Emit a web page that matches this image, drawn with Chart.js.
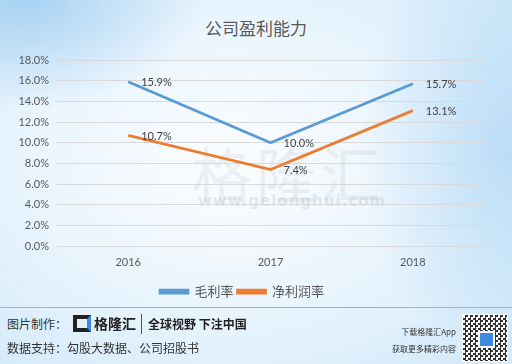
<!DOCTYPE html>
<html><head><meta charset="utf-8">
<script src="https://cdn.jsdelivr.net/npm/chart.js@4/dist/chart.umd.min.js"></script>
<style>
html,body{margin:0;padding:0;}
body{width:512px;height:364px;overflow:hidden;position:relative;font-family:"Noto Sans CJK SC",sans-serif;
background:
 radial-gradient(ellipse 35% 30% at 5% 0%, rgba(150,200,240,0.75) 0%, rgba(150,200,240,0) 100%),
 radial-gradient(ellipse 30% 60% at 100% 40%, rgba(170,212,245,0.7) 0%, rgba(170,212,245,0) 100%),
 radial-gradient(ellipse 70% 70% at 45% 45%, #fbfdff 0%, #eaf5fd 55%, #d6ebfa 100%);}
#title{position:absolute;left:0;top:15px;width:512px;text-align:center;font-size:17px;color:#595959;}
#wrap{position:absolute;left:0;top:0;width:512px;height:308px;}
#wm1{position:absolute;left:192px;top:128px;font-size:60px;color:rgba(160,170,180,0.15);letter-spacing:4px;}
#wm2{position:absolute;left:198px;top:192px;font-size:15px;color:rgba(160,170,180,0.25);font-family:"DejaVu Sans";letter-spacing:1px;font-weight:bold;}
#sep{position:absolute;left:0;top:307px;width:512px;height:1px;background:#9fb3c4;}
.f{position:absolute;color:#333;white-space:nowrap;}
#qr{position:absolute;left:462px;top:314px;width:44px;height:46px;background:#fff;
background-image:repeating-conic-gradient(#333 0 25%, #fff 0 50%);background-size:5px 5px;border:1px solid #fff;}
#qrc{position:absolute;left:478px;top:331px;width:13px;height:13px;background:#3b8be0;border:2px solid #fff;border-radius:2px;}
#logo{position:absolute;left:73px;top:315px;width:18px;height:17px;border:4px solid #222;border-right-color:#3b8be0;box-sizing:border-box;}
</style></head>
<body>
<div id="wm1">格隆汇</div>
<div id="wm2">www.gelonghui.com</div>
<div id="title">公司盈利能力</div>
<div id="wrap"><canvas id="c" width="512" height="308"></canvas></div>
<div id="sep"></div>
<div class="f" style="left:7px;top:315px;font-size:12px;">图片制作：</div>
<div id="logo"></div>
<div class="f" style="left:94px;top:313px;font-size:14px;font-weight:bold;color:#222;">格隆汇</div>
<div class="f" style="left:141px;top:314px;width:1px;height:20px;background:#555;"></div>
<div class="f" style="left:148px;top:315px;font-size:12px;font-weight:bold;color:#222;">全球视野 下注中国</div>
<div class="f" style="left:7px;top:339px;font-size:12px;">数据支持：勾股大数据、公司招股书</div>
<div class="f" style="right:56px;top:326px;font-size:8px;text-align:right;">下载格隆汇App</div>
<div class="f" style="right:56px;top:343px;font-size:8px;text-align:right;">获取更多精彩内容</div>
<div id="qr"></div><div id="qrc"></div>
<script>
const categories = ["2016", "2017", "2018"];
const grossMargin = [15.9, 10.0, 15.7];
const netMargin = [10.7, 7.4, 13.1];
const seriesNames = ["毛利率", "净利润率"];
const yTicks = [0, 2, 4, 6, 8, 10, 12, 14, 16, 18];

const labelPlugin = {
  id: 'pointLabels',
  afterDatasetsDraw(chart) {
    const ctx = chart.ctx;
    ctx.save();
    ctx.font = '11px Lato, "Noto Sans CJK SC"';
    ctx.fillStyle = '#404040';
    ctx.textAlign = 'left';
    ctx.textBaseline = 'middle';
    chart.data.datasets.forEach((ds, i) => {
      const meta = chart.getDatasetMeta(i);
      meta.data.forEach((pt, j) => {
        ctx.fillText(ds.data[j].toFixed(1) + '%', pt.x + 13, pt.y + 1);
      });
    });
    ctx.restore();
  }
};

new Chart(document.getElementById('c'), {
  type: 'line',
  data: {
    labels: categories,
    datasets: [
      {label: seriesNames[0], data: grossMargin, borderColor: '#5B9BD5', backgroundColor: '#5B9BD5', borderWidth: 2.75, pointRadius: 0, tension: 0},
      {label: seriesNames[1], data: netMargin, borderColor: '#ED7D31', backgroundColor: '#ED7D31', borderWidth: 2.75, pointRadius: 0, tension: 0}
    ]
  },
  options: {
    responsive: false,
    animation: false,
    layout: {padding: {top: 60, right: 28, left: 0, bottom: 0}},
    plugins: {
      title: {display: false},
      tooltip: {enabled: false},
      legend: {
        position: 'bottom',
        labels: {boxWidth: 28, boxHeight: 3, padding: 4, color: '#595959', font: {size: 13, family: '"Noto Sans CJK SC"'}}
      }
    },
    scales: {
      x: {
        offset: true,
        grid: {display: false, drawTicks: false},
        border: {display: false},
        ticks: {color: '#595959', font: {size: 11, family: 'Lato, "Noto Sans CJK SC"'}, padding: 10},
        afterFit(s) { s.height = 35; }
      },
      y: {
        min: 0, max: 18,
        afterBuildTicks(s) { s.ticks = yTicks.map(v => ({value: v})); },
        grid: {color: '#d9d9d9', drawTicks: false},
        border: {display: false},
        ticks: {color: '#595959', font: {size: 11, family: 'Lato, "Noto Sans CJK SC"'}, padding: 8,
          callback: v => v.toFixed(1) + '%'},
        afterFit(s) { s.width = 57; }
      }
    }
  },
  plugins: [labelPlugin]
});
</script>
</body></html>
